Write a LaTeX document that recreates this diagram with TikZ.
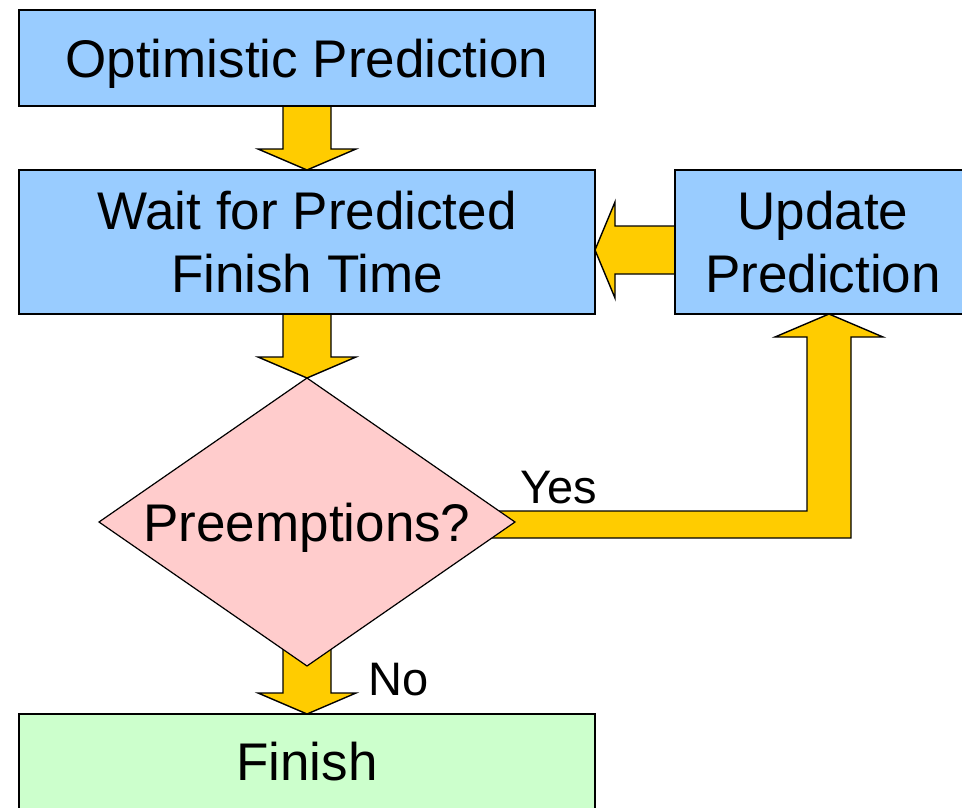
\documentclass[tikz,border=0pt]{standalone}
\usepackage{fontspec}
\setmainfont{Liberation Sans}
\usetikzlibrary{shapes.geometric,calc,backgrounds}

\definecolor{boxblue}{HTML}{99CCFF}
\definecolor{boxpink}{HTML}{FFCCCC}
\definecolor{boxgreen}{HTML}{CCFFCC}
\definecolor{arrowgold}{HTML}{FFCC00}

\begin{document}
\begin{tikzpicture}[x=1pt,y=-1pt]

\tikzset{
    step box/.style={
        draw,
        line width=2pt,
        fill=#1,
        rectangle,
        align=center,
        inner sep=0pt,
        outer sep=0pt,
        font=\fontsize{53}{63}\selectfont,
    },
    decision/.style={
        draw,
        line width=1.2pt,
        fill=boxpink,
        shape=diamond,
        aspect=1.444,
        minimum width=416pt,
        minimum height=288pt,
        inner sep=0pt,
        outer sep=0pt,
        text depth=0pt,
        font=\fontsize{53}{63}\selectfont,
    },
    flow/.style={
        draw,
        line width=1.4pt,
        line join=miter,
        fill=arrowgold,
    },
    branch/.style={
        font=\fontsize{47}{56}\selectfont,
        anchor=base,
        inner sep=0pt,
    }
}

\useasboundingbox (0,0) rectangle (962,807);

\node(opt) [step box=boxblue,minimum width=576pt,minimum height=96pt,text depth=0pt] at (307, 58) {Optimistic Prediction};
\node(wait) [step box=boxblue,minimum width=576pt,minimum height=144pt] at (307, 242) {Wait for Predicted\\Finish Time};
\node(upd) [step box=boxblue,minimum width=296pt,minimum height=144pt] at (823, 242) {Update\\Prediction};
\node(pre) [decision] at (307, 522) {Preemptions?};
\node(fin) [step box=boxgreen,minimum width=576pt,minimum height=96pt] at (307, 762) {Finish};

\node(yes) [branch] at (559, 503) {Yes};
\node(no) [branch] at (399, 695) {No};

\coordinate (tip) at ($(upd.south)+(6,0)$);
\coordinate (corner) at (tip |- pre.east);

\begin{scope}[on background layer]
% straight down
\draw[flow] ($(opt.south)+(-24,0)$) -- ($(wait.north)+(-24,-21)$) -- ($(wait.north)+(-49,-21)$) -- (wait.north)
    -- ($(wait.north)+(49,-21)$) -- ($(wait.north)+(24,-21)$) -- ($(opt.south)+(24,0)$) -- cycle;
\draw[flow] ($(wait.south)+(-24,0)$) -- ($(pre.north)+(-24,-21)$) -- ($(pre.north)+(-49,-21)$) -- (pre.north)
    -- ($(pre.north)+(49,-21)$) -- ($(pre.north)+(24,-21)$) -- ($(wait.south)+(24,0)$) -- cycle;
\draw[flow] ($(pre.south)+(-24,-30)$) -- ($(fin.north)+(-24,-21)$) -- ($(fin.north)+(-49,-21)$) -- (fin.north)
    -- ($(fin.north)+(49,-21)$) -- ($(fin.north)+(24,-21)$) -- ($(pre.south)+(24,-30)$) -- cycle;

% back to waiting
\draw[flow] ($(upd.west)+(0,-16)$) -- ($(wait.east)+(20,-16)$) -- ($(wait.east)+(20,-40)$) -- ($(wait.east)+(0,8)$)
    -- ($(wait.east)+(20,56)$) -- ($(wait.east)+(20,32)$) -- ($(upd.west)+(0,32)$) -- cycle;

% yes branch
\draw[flow] ($(pre.east)+(-40,-11)$) -- ($(corner)+(-22,-11)$) -- ($(tip)+(-22,23)$) -- ($(tip)+(-54,23)$) -- (tip)
    -- ($(tip)+(54,23)$) -- ($(tip)+(22,23)$) -- ($(corner)+(22,16)$) -- ($(pre.east)+(-40,16)$) -- cycle;
\end{scope}

\end{tikzpicture}
\end{document}
